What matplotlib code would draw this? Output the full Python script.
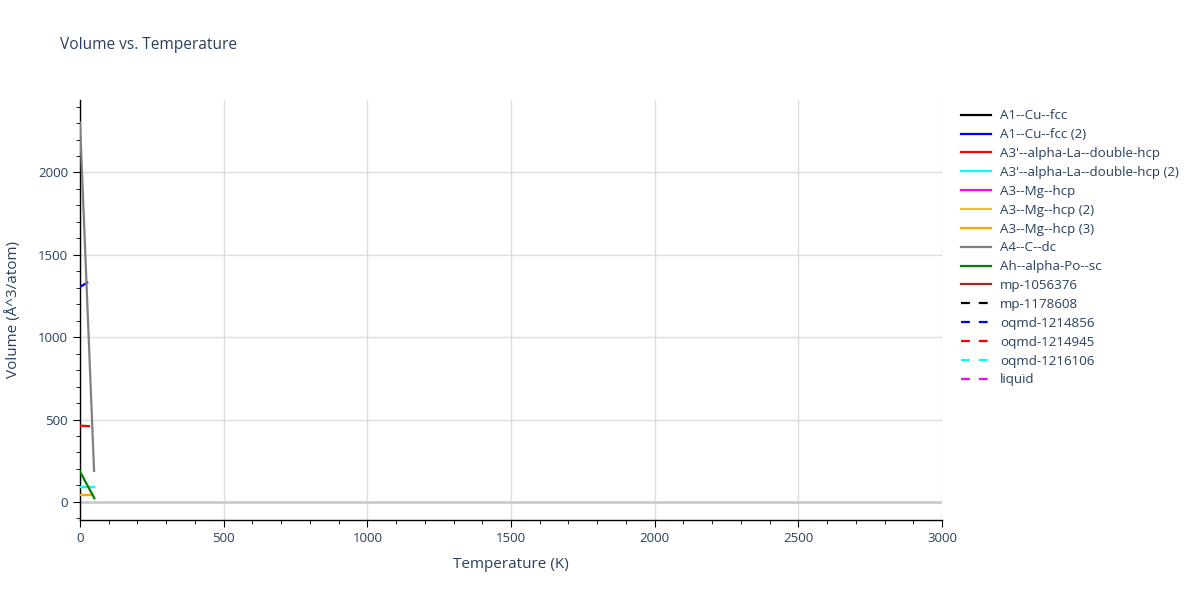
import matplotlib
matplotlib.use("Agg")
import matplotlib.pyplot as plt
from matplotlib.ticker import MultipleLocator

# Data
a1_cu_fcc_T, a1_cu_fcc_V = [], []
a1_cu_fcc2_T, a1_cu_fcc2_V = [0, 25], [1305, 1331]
a3p_la_T, a3p_la_V = [0, 31], [463, 460]
a3p_la2_T, a3p_la2_V = [0, 50], [89, 89]
a3_mg_T, a3_mg_V = [], []
a3_mg2_T, a3_mg2_V = [], []
a3_mg3_T, a3_mg3_V = [0, 46], [42, 42]
a4_c_dc_T, a4_c_dc_V = [0, 49], [2303, 188]
ah_po_sc_T, ah_po_sc_V = [0, 50], [184, 22]
mp1056376_T, mp1056376_V = [], []
mp1178608_T, mp1178608_V = [], []
oqmd1214856_T, oqmd1214856_V = [], []
oqmd1214945_T, oqmd1214945_V = [], []
oqmd1216106_T, oqmd1216106_V = [], []
liquid_T, liquid_V = [], []

series = [
    ("A1--Cu--fcc", a1_cu_fcc_T, a1_cu_fcc_V, "black", "-"),
    ("A1--Cu--fcc (2)", a1_cu_fcc2_T, a1_cu_fcc2_V, "blue", "-"),
    ("A3'--alpha-La--double-hcp", a3p_la_T, a3p_la_V, "red", "-"),
    ("A3'--alpha-La--double-hcp (2)", a3p_la2_T, a3p_la2_V, "cyan", "-"),
    ("A3--Mg--hcp", a3_mg_T, a3_mg_V, "magenta", "-"),
    ("A3--Mg--hcp (2)", a3_mg2_T, a3_mg2_V, "#f0c030", "-"),
    ("A3--Mg--hcp (3)", a3_mg3_T, a3_mg3_V, "orange", "-"),
    ("A4--C--dc", a4_c_dc_T, a4_c_dc_V, "gray", "-"),
    ("Ah--alpha-Po--sc", ah_po_sc_T, ah_po_sc_V, "green", "-"),
    ("mp-1056376", mp1056376_T, mp1056376_V, "brown", "-"),
    ("mp-1178608", mp1178608_T, mp1178608_V, "black", "--"),
    ("oqmd-1214856", oqmd1214856_T, oqmd1214856_V, "blue", "--"),
    ("oqmd-1214945", oqmd1214945_T, oqmd1214945_V, "red", "--"),
    ("oqmd-1216106", oqmd1216106_T, oqmd1216106_V, "cyan", "--"),
    ("liquid", liquid_T, liquid_V, "magenta", "--"),
]

TXT = "#2a3f5f"
plt.rcParams["font.family"] = ["Open Sans", "DejaVu Sans"]

fig = plt.figure(figsize=(12, 6), dpi=100)
ax = fig.add_axes([80/1200, 80/600, 862/1200, 420/600])

ax.axhline(0, color="#cccccc", lw=2, zorder=1)
handles = []
for name, T, V, c, ls in series:
    h, = ax.plot(T, V, color=c, ls=ls, lw=1.6, label=name, zorder=3,
                 dashes=(4, 4) if ls == "--" else (None, None))
    handles.append(h)

ax.set_xlim(0, 3000)
ax.set_ylim(-110, 2440)
ax.xaxis.set_major_locator(MultipleLocator(500))
ax.xaxis.set_minor_locator(MultipleLocator(100))
ax.yaxis.set_major_locator(MultipleLocator(500))
ax.yaxis.set_minor_locator(MultipleLocator(100))
ax.grid(True, which="major", color="#dddddd", lw=1, zorder=0)
ax.set_axisbelow(True)
for s in ["top", "right"]:
    ax.spines[s].set_visible(False)
for s in ["left", "bottom"]:
    ax.spines[s].set_color("black")
    ax.spines[s].set_linewidth(1)
ax.tick_params(which="major", direction="out", length=5, color="black",
               labelcolor=TXT, labelsize=9.5)
ax.tick_params(which="minor", direction="out", length=3, color="black")
ax.set_xlabel("Temperature (K)", color=TXT, fontsize=11, labelpad=9)
ax.set_ylabel("Volume (Å^3/atom)", color=TXT, fontsize=11, labelpad=12)

fig.text(60/1200, 1 - 45/600, "Volume vs. Temperature", color=TXT,
         fontsize=11.2, va="center", ha="left")

leg = fig.legend(handles=handles, loc="upper left",
                 bbox_to_anchor=(956/1200, 1 - 104/600), frameon=False,
                 fontsize=9.6, labelcolor=TXT, handlelength=2.2,
                 handletextpad=0.7, labelspacing=0.44, borderaxespad=0)

fig.savefig("out.png", dpi=100)
